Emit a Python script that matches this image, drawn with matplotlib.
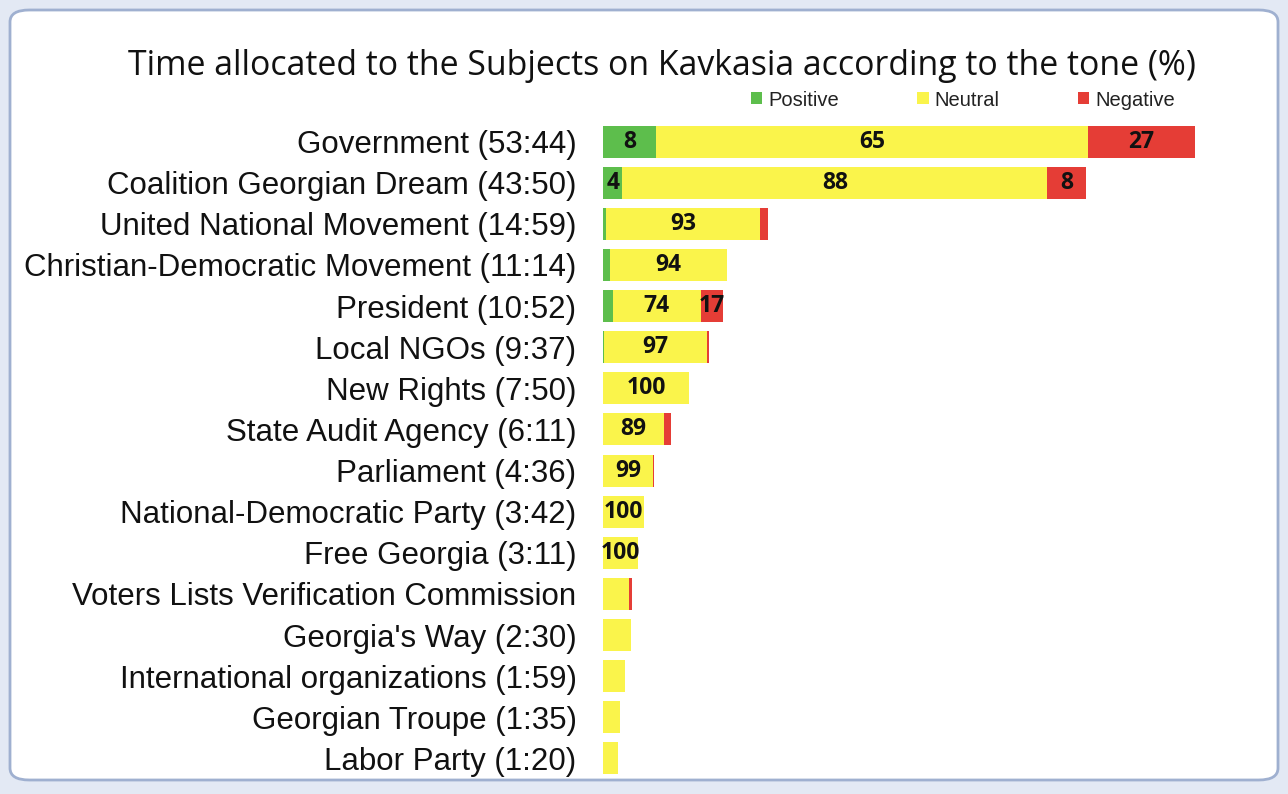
import numpy as np
import matplotlib.pyplot as plt
from matplotlib.patches import FancyBboxPatch

# subjects and their airtime (mm:ss)
subjects = ["Government (53:44)", "Coalition Georgian Dream (43:50)",
            "United National Movement (14:59)", "Christian-Democratic Movement (11:14)",
            "President (10:52)", "Local NGOs (9:37)", "New Rights (7:50)",
            "State Audit Agency (6:11)", "Parliament (4:36)",
            "National-Democratic Party (3:42)", "Free Georgia (3:11)",
            "Voters Lists Verification Commission", "Georgia's Way (2:30)",
            "International organizations (1:59)", "Georgian Troupe (1:35)",
            "Labor Party (1:20)"]
airtime = ["53:44", "43:50", "14:59", "11:14", "10:52", "9:37", "7:50", "6:11",
           "4:36", "3:42", "3:11", "2:38", "2:30", "1:59", "1:35", "1:20"]

# tone shares (%) as drawn by the bars
positive = [9, 4, 2, 6, 8, 1, 0, 0, 0, 0, 0, 0, 0, 0, 0, 0]
neutral = [73, 88, 93, 94, 74, 97, 100, 89, 99, 100, 100, 90, 100, 100, 100, 100]
negative = [18, 8, 5, 0, 18, 2, 0, 11, 1, 0, 0, 10, 0, 0, 0, 0]

# data labels printed on the segments ("" = none)
pos_labels = ["8", "4"] + [""] * 14
neu_labels = ["65", "88", "93", "94", "74", "97", "100", "89", "99", "100", "100",
              "", "", "", "", ""]
neg_labels = ["27", "8", "", "", "17"] + [""] * 11

minutes = np.array([int(t.split(":")[0]) + int(t.split(":")[1]) / 60 for t in airtime])
pos = minutes * np.array(positive) / 100
neu = minutes * np.array(neutral) / 100
neg = minutes * np.array(negative) / 100

green = "#5DBE4C"
yellow = "#FAF44B"
red = "#E53D36"

W, H = 1288, 794
fig = plt.figure(figsize=(W / 100, H / 100), dpi=100)
fig.patch.set_facecolor("#e3e9f4")
frame = FancyBboxPatch((10 / W, 14 / H), 1268 / W, 770 / H,
                       boxstyle="round,pad=0,rounding_size=0.015",
                       transform=fig.transFigure, facecolor="white",
                       edgecolor="#9fb0d0", linewidth=2, zorder=-10)
fig.patches.append(frame)

ax = fig.add_axes([603 / W, 1 - 779 / H, 592 / W, (779 - 121) / H])
ax.set_facecolor("none")
ax.set_zorder(5)
y = np.arange(len(subjects))
h = 0.78
ax.barh(y, pos, height=h, color=green, label="Positive")
ax.barh(y, neu, left=pos, height=h, color=yellow, label="Neutral")
ax.barh(y, neg, left=pos + neu, height=h, color=red, label="Negative")

lab = dict(ha="center", va="center", fontsize=16.5, fontweight="bold",
           color="#111111", family="Open Sans")
for i in range(len(subjects)):
    if pos_labels[i]:
        ax.text(pos[i] / 2, i, pos_labels[i], **lab)
    if neu_labels[i]:
        ax.text(pos[i] + neu[i] / 2, i, neu_labels[i], **lab)
    if neg_labels[i]:
        ax.text(pos[i] + neu[i] + neg[i] / 2, i, neg_labels[i], **lab)

ax.set_xlim(0, minutes[0])
ax.set_ylim(len(subjects) - 0.5, -0.5)
ax.set_yticks(y)
ax.set_yticklabels(subjects, fontsize=22.5, family="Liberation Sans", color="#111111")
ax.tick_params(axis="y", length=0, pad=19)
ax.set_xticks([])
for s in ax.spines.values():
    s.set_visible(False)

fig.text(661.5 / W, 1 - 66 / H, "Time allocated to the Subjects on Kavkasia according to the tone (%)",
         ha="center", va="center", fontsize=24.4, family="Open Sans", color="#111111")

leg = fig.legend(loc="center", bbox_to_anchor=(963 / W, 1 - 100 / H), ncol=3,
                 frameon=False, handlelength=0.55, handleheight=0.55,
                 handletextpad=0.3, columnspacing=3.9,
                 prop={"family": "Liberation Sans", "size": 14.5})
for t in leg.get_texts():
    t.set_color("#222222")

plt.savefig("out.png", dpi=100)
